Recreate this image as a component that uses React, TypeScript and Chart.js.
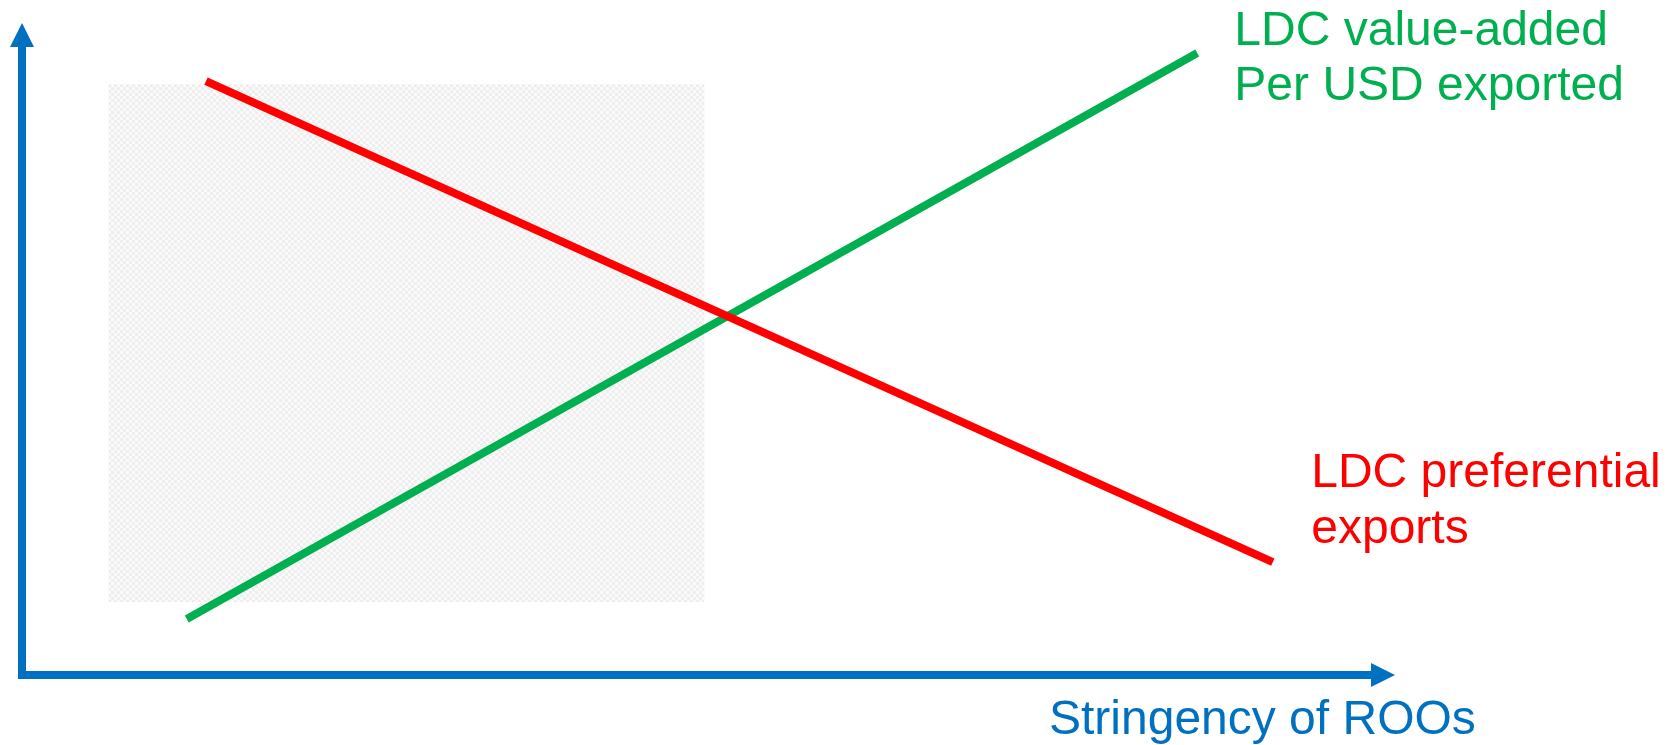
import React, { useEffect, useRef } from "react";
import { Chart, registerables } from "chart.js";

Chart.register(...registerables);

// Stylised schematic: x = stringency of ROOs (0-100), y = level (0-100)
const preferentialX = [13.4, 91.1];
const preferentialY = [91.1, 17.3];
const valueAddedX = [12.0, 85.6];
const valueAddedY = [8.6, 95.4];
const shadedX = [6.3, 49.7];
const shadedY = [11.2, 90.6];

const xAxisTitle = "Stringency of ROOs";
const valueAddedLabel = ["LDC value-added", "Per USD exported"];
const preferentialLabel = ["LDC preferential", "exports"];

const BLUE = "#0070C0";
const GREEN = "#00B050";
const RED = "#FF0000";
const FONT = "48px 'Liberation Sans', Arial, sans-serif";

const schematicPlugin = {
  id: "schematic",
  beforeDatasetsDraw(chart: any) {
    const { ctx, scales } = chart;
    const x = scales.x;
    const y = scales.y;
    // shaded region with fine checker pattern
    const pc = document.createElement("canvas");
    pc.width = 6;
    pc.height = 6;
    const p = pc.getContext("2d")!;
    p.fillStyle = "#fafafa";
    p.fillRect(0, 0, 6, 6);
    p.fillStyle = "#eeeeee";
    p.fillRect(0, 0, 3, 3);
    p.fillRect(3, 3, 3, 3);
    const pattern = ctx.createPattern(pc, "repeat");
    const x0 = x.getPixelForValue(shadedX[0]);
    const x1 = x.getPixelForValue(shadedX[1]);
    const y0 = y.getPixelForValue(shadedY[1]);
    const y1 = y.getPixelForValue(shadedY[0]);
    ctx.save();
    ctx.fillStyle = pattern;
    ctx.fillRect(x0, y0, x1 - x0, y1 - y0);
    ctx.restore();
  },
  afterDatasetsDraw(chart: any) {
    const { ctx, chartArea, scales } = chart;
    const x = scales.x;
    const ox = chartArea.left;
    const oy = chartArea.bottom;
    const lw = 8;
    ctx.save();
    ctx.fillStyle = BLUE;
    // vertical axis
    ctx.fillRect(ox - lw / 2, chartArea.top + 22, lw, oy - chartArea.top - 22 + lw / 2);
    // horizontal axis
    ctx.fillRect(ox - lw / 2, oy - lw / 2, chartArea.right - 23 - ox + lw / 2, lw);
    // up arrow head
    ctx.beginPath();
    ctx.moveTo(ox, chartArea.top);
    ctx.lineTo(ox - 12, chartArea.top + 24);
    ctx.lineTo(ox + 12, chartArea.top + 24);
    ctx.closePath();
    ctx.fill();
    // right arrow head
    ctx.beginPath();
    ctx.moveTo(chartArea.right, oy);
    ctx.lineTo(chartArea.right - 24, oy - 12);
    ctx.lineTo(chartArea.right - 24, oy + 12);
    ctx.closePath();
    ctx.fill();

    ctx.font = FONT;
    ctx.textAlign = "left";
    ctx.textBaseline = "alphabetic";
    // x-axis title
    ctx.fillText(xAxisTitle, x.getPixelForValue(74.8), 734);
    // value-added label
    ctx.fillStyle = GREEN;
    valueAddedLabel.forEach((t, i) => {
      ctx.fillText(t, x.getPixelForValue(88.3), 45 + i * 55);
    });
    // preferential exports label
    ctx.fillStyle = RED;
    preferentialLabel.forEach((t, i) => {
      ctx.fillText(t, x.getPixelForValue(93.9), 487 + i * 56);
    });
    ctx.restore();
  },
};

export default function App() {
  const ref = useRef<HTMLCanvasElement>(null);
  useEffect(() => {
    if (!ref.current) return;
    const toPts = (xs: number[], ys: number[]) => xs.map((v, i) => ({ x: v, y: ys[i] }));
    const chart = new Chart(ref.current, {
      type: "line",
      data: {
        datasets: [
          {
            label: "LDC preferential exports",
            data: toPts(preferentialX, preferentialY),
            borderColor: RED,
            borderWidth: 8,
            pointRadius: 0,
            borderCapStyle: "butt",
            fill: false,
          },
          {
            label: "LDC value-added per USD exported",
            data: toPts(valueAddedX, valueAddedY),
            borderColor: GREEN,
            borderWidth: 8,
            pointRadius: 0,
            borderCapStyle: "butt",
            fill: false,
          },
        ],
      },
      options: {
        animation: false,
        responsive: false,
        devicePixelRatio: 1,
        layout: { padding: { left: 22, top: 23, right: 285, bottom: 70 } },
        plugins: { legend: { display: false }, tooltip: { enabled: false } },
        scales: {
          x: { type: "linear", min: 0, max: 100, display: false },
          y: { type: "linear", min: 0, max: 100, display: false },
        },
      },
      plugins: [schematicPlugin],
    });
    return () => chart.destroy();
  }, []);
  return (
    <div style={{ position: "absolute", left: 0, top: 0, width: 1680, height: 745, background: "#fff" }}>
      <canvas ref={ref} width={1680} height={745} />
    </div>
  );
}
